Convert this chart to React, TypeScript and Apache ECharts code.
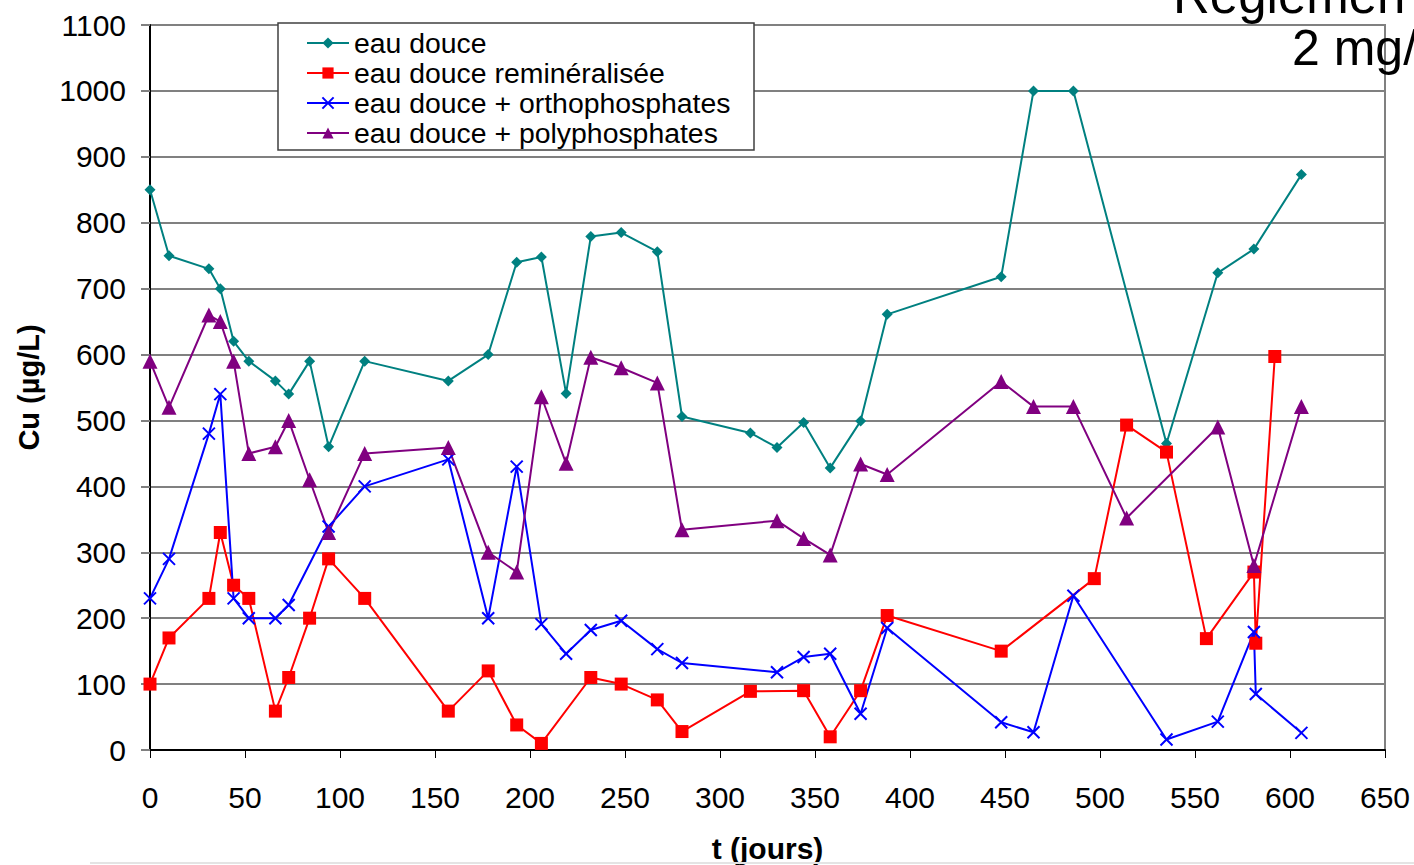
import React, { useEffect, useRef } from "react";
import * as echarts from "echarts";

const days = [0, 10, 31, 37, 44, 52, 66, 73, 84, 94, 113, 157, 178, 193, 206, 219, 232, 248, 267, 280, 316, 330, 344, 358, 374, 388, 448, 465, 486, 497, 514, 535, 556, 562, 581, 582, 592, 606];

const eauDouce = [850, 750, 730, 700, 620, 590, 560, 540, 590, 460, 590, 560, 600, 740, 748, 541, 779, 785, 756, 506, 481, 459, 497, 428, 499, 661, 718, 1000, 1000, null, null, 465, null, 724, 760, null, null, 873];
const eauRemin = [100, 170, 230, 330, 250, 230, 59, 110, 200, 290, 230, 59, 120, 38, 10, null, 110, 100, 76, 28, 89, null, 90, 20, 90, 204, 150, null, null, 260, 493, 452, 169, null, 270, 162, 597, null];
const eauOrtho = [230, 290, 480, 540, 230, 200, 200, 220, null, 339, 400, 441, 200, 430, 191, 146, 182, 196, 153, 132, null, 118, 141, 146, 55, 185, 42, 27, 234, null, null, 16, null, 43, 179, 85, null, 26];
const eauPoly = [590, 520, 660, 650, 590, 450, 460, 500, 410, 330, 450, 459, 300, 270, 536, 435, 596, 580, 557, 334, null, 348, 321, 296, 434, 418, 559, 521, 521, null, 352, null, null, 490, 280, null, null, 521];

const seriesNames = ["eau douce", "eau douce reminéralisée", "eau douce + orthophosphates", "eau douce + polyphosphates"];
const xTicks = { min: 0, max: 650, interval: 50 };
const yTicks = { min: 0, max: 1100, interval: 100 };
const titleLines = ["Réglemen", "2 mg/"];

const FONT = "'Liberation Sans', Arial, sans-serif";

function pairs(vals: (number | null)[]) {
  return days.map((d, i) => [d, vals[i]]).filter((p) => p[1] !== null);
}

export default function App() {
  const ref = useRef<HTMLDivElement>(null);
  useEffect(() => {
    if (!ref.current) return;
    const chart = echarts.init(ref.current, null, { renderer: "svg" });
    const lineBase = (name: string, vals: (number | null)[], color: string, symbol: string, size: number, extra: any = {}) => ({
      name,
      type: "line",
      data: pairs(vals),
      symbol,
      symbolSize: size,
      showSymbol: true,
      connectNulls: true,
      lineStyle: { color, width: 2 },
      itemStyle: { color, borderColor: color, borderWidth: 0, ...extra },
      z: 3,
    });
    chart.setOption({
      animation: false,
      backgroundColor: "#ffffff",
      textStyle: { fontFamily: FONT },
      grid: {
        left: 150, right: 29, top: 25, bottom: 115,
        containLabel: false, outerBoundsMode: "none",
        show: true, borderColor: "#808080", borderWidth: 2, backgroundColor: "transparent",
      },
      xAxis: {
        type: "value",
        ...xTicks,
        name: "t (jours)",
        nameLocation: "middle",
        nameGap: 83,
        nameMoveOverlap: false,
        nameTextStyle: { fontSize: 30, fontWeight: "bold", color: "#000", fontFamily: FONT },
        axisLine: { show: true, lineStyle: { color: "#000", width: 2 } },
        axisTick: { show: true, length: 8, lineStyle: { color: "#000", width: 1 } },
        axisLabel: { fontSize: 30, color: "#000", margin: 32, fontFamily: FONT, formatter: (v: number) => String(v) },
        splitLine: { show: false },
      },
      yAxis: {
        type: "value",
        ...yTicks,
        name: "Cu (µg/L)",
        nameLocation: "middle",
        nameGap: 107,
        nameMoveOverlap: false,
        nameTextStyle: { fontSize: 29, fontWeight: "bold", color: "#000", fontFamily: FONT },
        axisLine: { show: true, lineStyle: { color: "#000", width: 2 } },
        axisTick: { show: true, length: 9, lineStyle: { color: "#808080", width: 2 } },
        axisLabel: { fontSize: 30, color: "#000", margin: 24, fontFamily: FONT, formatter: (v: number) => String(v) },
        splitLine: { show: true, lineStyle: { color: "#808080", width: 2 } },
      },
      legend: {
        orient: "vertical",
        left: 306,
        top: 28,
        padding: 0,
        itemGap: 0,
        itemWidth: 42,
        itemHeight: 14,
        z: 10,
        data: seriesNames,
        textStyle: { fontSize: 28.4, color: "#000", lineHeight: 30, padding: [0, 0, 0, 0], fontFamily: FONT },
      },
      graphic: [
        {
          type: "rect",
          z: 8,
          shape: { x: 278, y: 23, width: 476, height: 127 },
          style: { fill: "#ffffff", stroke: "#404040", lineWidth: 1.5 },
        },
        {
          type: "text",
          z: 9,
          x: 1173,
          y: -5,
          style: { text: titleLines[0], fontSize: 51, fill: "#000", fontFamily: FONT, verticalAlign: "middle", align: "left" },
        },
        {
          type: "text",
          z: 9,
          x: 1292,
          y: 48,
          style: { text: titleLines[1], fontSize: 50, fill: "#000", fontFamily: FONT, verticalAlign: "middle", align: "left" },
        },
        {
          type: "line",
          z: 1,
          shape: { x1: 90, y1: 863, x2: 1414, y2: 863 },
          style: { stroke: "#e4e4e4", lineWidth: 2 },
        },
      ],
      series: [
        lineBase(seriesNames[0], eauDouce, "#008080", "diamond", 11),
        lineBase(seriesNames[1], eauRemin, "#ff0000", "rect", 13),
        lineBase(seriesNames[2], eauOrtho, "#0000ff", "path://M0,0L10,10M10,0L0,10", 12, { color: "transparent", borderColor: "#0000ff", borderWidth: 2 }),
        lineBase(seriesNames[3], eauPoly, "#800080", "triangle", 15),
      ],
    });
    return () => chart.dispose();
  }, []);
  return <div ref={ref} style={{ position: "fixed", left: 0, top: 0, width: 1414, height: 865, background: "#fff" }} />;
}
